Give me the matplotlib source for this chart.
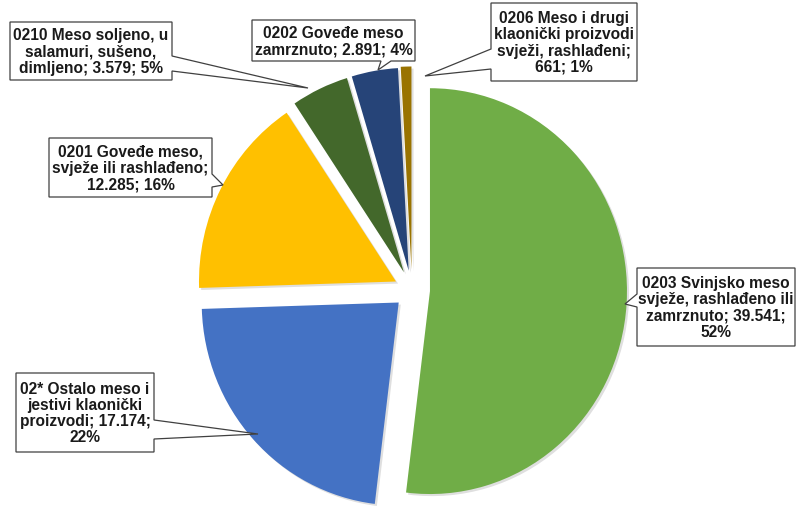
import matplotlib.pyplot as plt
import matplotlib.patheffects as pe
from matplotlib.patches import Polygon

# Data, clockwise from 12 o'clock
categories = [
    "0203 Svinjsko meso\nsvježe, rashlađeno ili\nzamrznuto",
    "02* Ostalo meso i\njestivi klaonički\nproizvodi",
    "0201 Goveđe meso,\nsvježe ili rashlađeno",
    "0210 Meso soljeno, u\nsalamuri, sušeno,\ndimljeno",
    "0202 Goveđe meso\nzamrznuto",
    "0206 Meso i drugi\nklaonički proizvodi\nsvježi, rashlađeni",
]
values = [39541, 17174, 12285, 3579, 2891, 661]
shares = [52, 22, 16, 5, 4, 1]
colors = ["#70AD47", "#4472C4", "#FFC000", "#43682B", "#264478", "#997300"]

# Layout (pixel coordinates, y measured from the top of the image)
W, H = 796, 510
center = (412, 291)
radius = 197
y_stretch = 1.03   # the pie in the original is a touch taller than wide
explode = [18, 18, 18, 19, 19, 20]
label_fmt = ["{c}; {v};\n{p}%", "{c}; {v};\n{p}%", "{c};\n{v}; {p}%",
             "{c}; {v}; {p}%", "{c}; {v}; {p}%", "{c};\n{v}; {p}%"]
boxes = [(637, 269, 795, 347), (16, 374, 154, 453), (49, 139, 212, 198),
         (10, 23, 172, 81), (252, 21, 415, 62), (491, 4, 637, 82)]
# side of the box, (base point 1, tip, base point 2) in path order
pointers = [
    ("left", [(637, 308), (625, 305), (637, 295)]),
    ("right", [(154, 421), (258, 435), (154, 440)]),
    ("right", [(212, 175), (223, 186), (212, 188)]),
    ("right", [(172, 57), (308, 89), (172, 72)]),
    ("bottom", [(391, 62), (378, 71), (381, 62)]),
    ("left", [(491, 70), (425, 77), (491, 50)]),
]


def fy(y):
    return H - y


def callout_path(box, side, pts):
    x0, y0, x1, y1 = box
    pts = [(x, fy(y)) for x, y in pts]
    tl, tr, br, bl = (x0, fy(y0)), (x1, fy(y0)), (x1, fy(y1)), (x0, fy(y1))
    path = [tl, tr]
    if side == "right":
        path += pts
    path.append(br)
    if side == "bottom":
        path += pts
    path.append(bl)
    if side == "left":
        path += pts
    return path


fig = plt.figure(figsize=(W / 100, H / 100), dpi=100)

# pie axes, y slightly stretched around the pie centre
ax_pie = fig.add_axes([0, 0, 1, 1])
cy = fy(center[1])
wedges, _ = ax_pie.pie(values, colors=colors, startangle=90, counterclock=False,
                       radius=radius, center=(center[0], cy),
                       explode=explode, wedgeprops=dict(linewidth=0))
for w in wedges:
    w.set_path_effects([pe.SimplePatchShadow(offset=(1.5, -1.5), shadow_rgbFace="#808080", alpha=0.25),
                        pe.Normal()])
ax_pie.set_aspect("auto")
ax_pie.set_xlim(0, W)
y_lo = cy - cy / y_stretch
ax_pie.set_ylim(y_lo, y_lo + H / y_stretch)
ax_pie.axis("off")

# label axes in plain pixel coordinates
ax = fig.add_axes([0, 0, 1, 1])
ax.patch.set_visible(False)
for i, cat in enumerate(categories):
    val = f"{values[i]:,}".replace(",", ".")
    text = label_fmt[i].format(c=cat, v=val, p=shares[i])
    side, pts = pointers[i]
    box = boxes[i]
    ax.add_patch(Polygon(callout_path(box, side, pts), closed=True, facecolor="white",
                         edgecolor="#404040", linewidth=0.9, zorder=3))
    ax.text((box[0] + box[2]) / 2, fy((box[1] + box[3]) / 2), text, ha="center", va="center",
            fontsize=11.2, fontweight="bold", family="Liberation Sans", color="#1a1a1a",
            linespacing=1.1, zorder=4)

ax.set_xlim(0, W)
ax.set_ylim(0, H)
ax.axis("off")

fig.savefig("out.png", dpi=100)
